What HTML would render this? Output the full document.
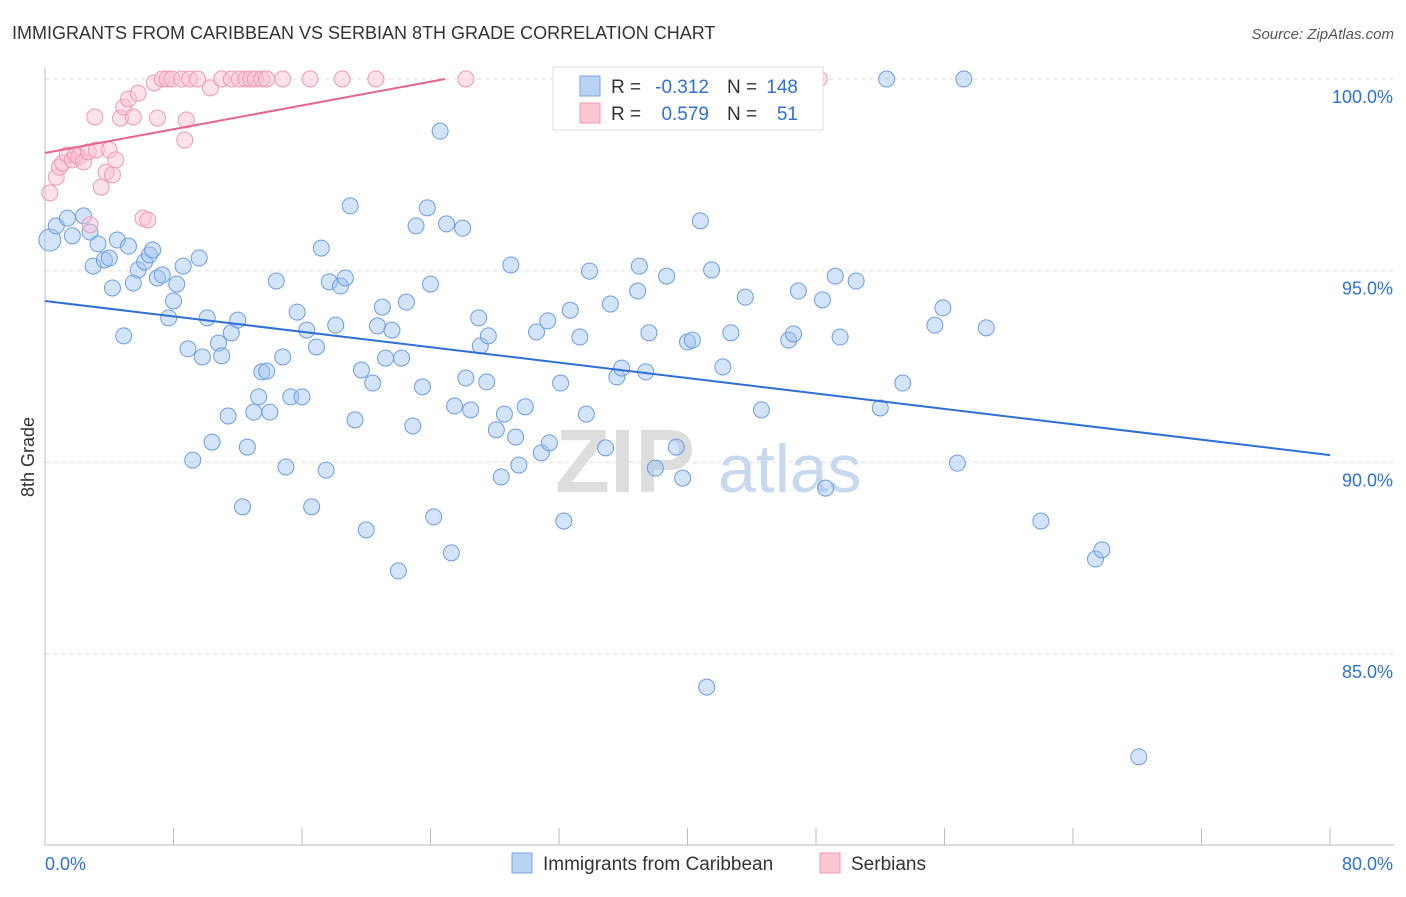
<!DOCTYPE html>
<html><head><meta charset="utf-8"><style>
body{margin:0;background:#fff;font-family:"Liberation Sans",sans-serif;}
svg text{font-family:"Liberation Sans",sans-serif;}
</style></head><body>
<svg id="chart" width="1406" height="892">
<text x="12" y="39" font-size="18" fill="#333">IMMIGRANTS FROM CARIBBEAN VS SERBIAN 8TH GRADE CORRELATION CHART</text>
<text x="1394" y="39" font-size="15" fill="#555" text-anchor="end" font-style="italic">Source: ZipAtlas.com</text>
<g id="grid"></g>
<g id="axes"></g>
<text x="555" y="492" font-size="90" font-weight="bold" fill="#ddd">ZIP</text>
<text x="718" y="492" font-size="68" fill="#c8d8ee">atlas</text>
<g id="marks"></g>
<text transform="translate(34,457) rotate(-90)" font-size="18" fill="#333" text-anchor="middle">8th Grade</text>
<g>
<rect x="553" y="67" width="270" height="63" fill="#fff" stroke="#ddd"/>
<rect x="580" y="76" width="20" height="20" fill="#b9d3f5" stroke="#7aa6e6"/>
<rect x="580" y="103" width="20" height="20" fill="#fbc7d7" stroke="#f09ab5"/>
<text x="611" y="93" font-size="19" fill="#333">R =</text>
<text x="709" y="93" font-size="19" fill="#2e6fd8" text-anchor="end">-0.312</text>
<text x="727" y="93" font-size="19" fill="#333">N =</text>
<text x="798" y="93" font-size="19" fill="#2e6fd8" text-anchor="end">148</text>
<text x="611" y="120" font-size="19" fill="#333">R =</text>
<text x="709" y="120" font-size="19" fill="#2e6fd8" text-anchor="end">0.579</text>
<text x="727" y="120" font-size="19" fill="#333">N =</text>
<text x="798" y="120" font-size="19" fill="#2e6fd8" text-anchor="end">51</text>
</g>
<g>
<rect x="512" y="853" width="20" height="20" fill="#b9d3f5" stroke="#7aa6e6"/>
<text x="543" y="870" font-size="19" fill="#333">Immigrants from Caribbean</text>
<rect x="820" y="853" width="20" height="20" fill="#fbc7d7" stroke="#f09ab5"/>
<text x="851" y="870" font-size="19" fill="#333">Serbians</text>
</g>
</svg>
<script>
const xTicks=[0,8,16,24,32,40,48,56,64,72,80];
const yTicks=[85,90,95,100];
const yTickLabels=["85.0%","90.0%","95.0%","100.0%"];
const blueX=[0.3,0.7,1.4,1.7,2.4,2.8,3.3,3.0,3.7,4.0,4.2,4.5,4.9,5.2,5.5,5.8,6.2,6.5,6.7,7.0,7.3,7.7,8.0,8.2,8.6,8.9,9.2,9.6,9.8,10.1,10.4,10.8,11.0,11.4,11.6,12.0,12.6,12.3,13.0,13.3,13.5,13.8,14.0,14.4,14.8,15.0,15.3,15.7,16.0,16.3,16.6,16.9,17.2,17.5,17.7,18.1,18.4,18.7,19.0,19.3,19.7,20.0,20.4,20.7,21.0,21.2,21.6,22.0,22.2,22.5,22.9,23.1,23.5,23.8,24.0,24.2,24.6,25.0,25.3,25.5,26.0,26.2,26.5,27.0,27.1,27.5,27.6,28.1,28.4,28.6,29.0,29.3,29.5,29.9,30.6,30.9,31.3,31.4,32.1,32.3,32.7,33.3,33.7,33.9,34.9,35.2,35.6,35.9,36.9,37.0,37.4,37.6,38.0,38.7,39.3,39.7,40.0,40.3,40.8,41.2,41.5,42.2,42.7,43.6,44.6,46.3,46.6,46.9,48.4,48.6,49.2,49.5,50.5,52.0,52.4,53.4,55.4,55.9,56.8,57.2,58.6,62.0,65.4,65.8,68.1];
const blueY=[95.80,96.17,96.37,95.91,96.43,96.01,95.70,95.12,95.28,95.33,94.55,95.80,93.30,95.64,94.68,95.02,95.23,95.41,95.54,94.81,94.89,93.77,94.21,94.65,95.12,92.96,90.06,95.33,92.75,93.77,90.53,93.11,92.78,91.21,93.38,93.71,90.40,88.84,91.31,91.71,92.36,92.38,91.31,94.73,92.75,89.88,91.71,93.92,91.71,93.45,88.84,93.01,95.59,89.80,94.71,93.58,94.60,94.81,96.69,91.11,92.41,88.24,92.07,93.56,94.05,92.72,93.45,87.17,92.72,94.18,90.95,96.17,91.97,96.64,94.65,88.58,98.64,96.22,87.64,91.47,96.11,92.20,91.37,93.77,93.04,92.10,93.30,90.85,89.62,91.26,95.15,90.66,89.93,91.45,93.40,90.25,93.69,90.51,92.07,88.47,93.97,93.27,91.26,94.99,90.38,94.13,92.23,92.46,94.47,95.12,92.36,93.38,89.85,94.86,90.40,89.59,93.14,93.19,96.30,84.14,95.02,92.49,93.38,94.31,91.37,93.19,93.35,94.47,94.24,89.33,94.86,93.27,94.73,91.42,100.0,92.07,93.58,94.03,89.98,100.0,93.51,88.47,87.48,87.72,82.32];
const pinkX=[0.3,0.7,0.9,1.1,1.4,1.7,1.9,2.1,2.4,2.7,3.1,3.2,3.5,3.8,4.0,4.2,4.4,4.7,4.9,5.2,5.5,5.8,6.1,6.4,6.8,7.0,7.3,7.6,7.9,8.5,8.7,8.8,9.0,9.5,10.3,11.0,11.6,12.1,12.5,12.8,13.1,13.5,13.8,14.8,16.5,18.5,20.6,26.2,37.1,48.2,2.8];
const pinkY=[97.03,97.44,97.70,97.81,98.02,97.89,98.02,97.97,97.84,98.10,99.01,98.15,97.18,97.57,98.15,97.50,97.89,98.98,99.27,99.48,99.01,99.63,96.37,96.32,99.90,98.98,100,100,100,100,98.41,98.93,100,100,99.77,100,100,100,100,100,100,100,100,100,100,100,100,100,100,100,96.2];
const blueTrend=[94.21,90.19];
const pinkTrend=[98.07,100];
const pinkTrendEndX=24.9;

const NS="http://www.w3.org/2000/svg";
const xs=v=>45+v/80*1285;
const ys=v=>79+(100-v)*38.34;
function mk(tag,attrs,parent){const e=document.createElementNS(NS,tag);for(const k in attrs)e.setAttribute(k,attrs[k]);parent.appendChild(e);return e;}
const grid=document.getElementById('grid'),axes=document.getElementById('axes'),marks=document.getElementById('marks');
yTicks.forEach((t,i)=>{
  const l=mk('line',{x1:45,x2:1394,y1:ys(t),y2:ys(t),stroke:'#ddd','stroke-dasharray':'4,4'},grid);
  
  
  const tx=mk('text',{x:1393,y:ys(t)+24,'font-size':18,fill:'#2e6fd8','text-anchor':'end'},axes);
  tx.textContent=yTickLabels[i];
  
  
});
const ax=mk('line',{x1:45,x2:45,y1:68,y2:845,stroke:'#bbb'},axes);


const bx=mk('line',{x1:45,x2:1394,y1:845,y2:845,stroke:'#bbb'},axes);


xTicks.forEach(t=>{
  const l=mk('line',{x1:xs(t),x2:xs(t),y1:828,y2:845,stroke:'#bbb'},axes);
  
  
});
const x0=mk('text',{x:45,y:870,'font-size':18,fill:'#2e6fd8'},axes);
x0.textContent='0.0%';


const x1=mk('text',{x:1393,y:870,'font-size':18,fill:'#2e6fd8','text-anchor':'end'},axes);
x1.textContent='80.0%';


blueX.forEach((v,i)=>{
  const c=mk('circle',{cx:xs(v),cy:ys(blueY[i]),r:i===0?11:8,fill:'rgba(160,196,240,0.45)',stroke:'#6d9de0','stroke-width':1},marks);
  
  
});
pinkX.forEach((v,i)=>{
  const c=mk('circle',{cx:xs(v),cy:ys(pinkY[i]),r:8,fill:'rgba(250,190,208,0.45)',stroke:'#ee9ab5','stroke-width':1},marks);
  
  
});
const bl=mk('line',{x1:xs(0),y1:ys(blueTrend[0]),x2:xs(80),y2:ys(blueTrend[1]),stroke:'#2e6fd8','stroke-width':2},marks);


const pl=mk('line',{x1:xs(0),y1:ys(pinkTrend[0]),x2:xs(pinkTrendEndX),y2:ys(pinkTrend[1]),stroke:'#e8648e','stroke-width':2},marks);


</script>
</body></html>
